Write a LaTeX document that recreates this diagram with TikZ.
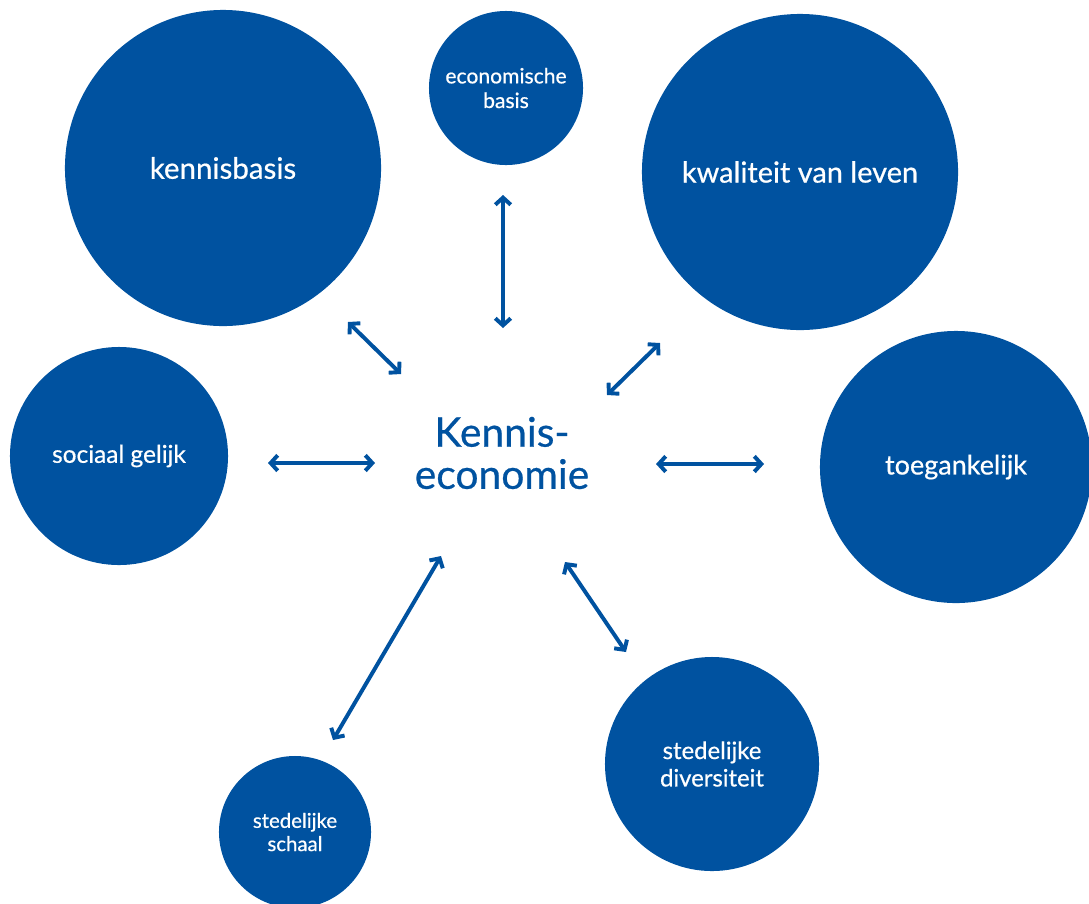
\documentclass[tikz,border=0pt]{standalone}
\usepackage{fontspec}
\setmainfont{Lato}[FakeBold=0.6]
\usetikzlibrary{arrows.meta}
\definecolor{kblue}{HTML}{0052A0}

\begin{document}
\begin{tikzpicture}
[x=0.025cm,y=-0.025cm,
bubble/.style = {circle, fill = kblue, text = white, inner sep = 0pt, align = center},
link/.style = {draw = kblue, line width = 2.8pt, {Straight Barb[length=5pt,width=11pt]}-{Straight Barb[length=5pt,width=11pt]}},]
\useasboundingbox (0,0) rectangle (1089,903);
\node (KB) at (223,168)[bubble,minimum size=7.9cm,font=\fontsize{21}{25}\selectfont] {kennisbasis};
\node (EB) at (506,88)[bubble,minimum size=3.85cm,font=\fontsize{15}{17.5}\selectfont] {economische\\basis};
\node (KL) at (800,172)[bubble,minimum size=7.9cm,font=\fontsize{20.6}{25}\selectfont] {kwaliteit van leven};
\node (SG) at (119,456)[bubble,minimum size=5.45cm,font=\fontsize{17.4}{21}\selectfont] {sociaal gelijk};
\node (TG) at (956,467)[bubble,minimum size=6.8cm,font=\fontsize{19.2}{23}\selectfont] {toegankelijk};
\node (SD) at (712,764)[bubble,minimum size=5.35cm,font=\fontsize{17}{19.5}\selectfont] {stedelijke\\diversiteit};
\node (SS) at (295,832)[bubble,minimum size=3.8cm,font=\fontsize{14.5}{16.5}\selectfont] {stedelijke\\schaal};
\node (KE) at (502,453)[text=kblue,align=center,font=\fontsize{29}{30}\selectfont] {Kennis-\\economie};
% pijlen
\coordinate (kb1) at (348,322); \coordinate (kb2) at (401,374);
\coordinate (eb1) at (503,195); \coordinate (eb2) at (503,328);
\coordinate (kl1) at (660,343); \coordinate (kl2) at (607,395);
\coordinate (sg1) at (268,463); \coordinate (sg2) at (375,463);
\coordinate (tg1) at (656,464); \coordinate (tg2) at (764,464);
\coordinate (ss1) at (441,556); \coordinate (ss2) at (333,740);
\coordinate (sd1) at (565,562); \coordinate (sd2) at (626,652);
\draw [link] (kb1) -- (kb2);
\draw [link] (eb1) -- (eb2);
\draw [link] (kl1) -- (kl2);
\draw [link] (sg1) -- (sg2);
\draw [link] (tg1) -- (tg2);
\draw [link] (ss1) -- (ss2);
\draw [link] (sd1) -- (sd2);
\end{tikzpicture}
\end{document}
